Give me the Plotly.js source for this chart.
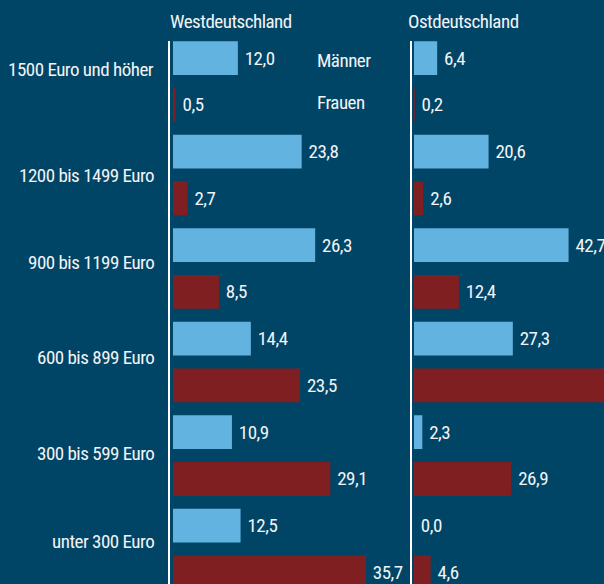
<!DOCTYPE html>
<html>
<head>
<meta charset="utf-8">
<script src="https://cdn.plot.ly/plotly-3.0.1.min.js"></script>
<style>
  html, body { margin: 0; padding: 0; background: #014566; }
  #chart { width: 604px; height: 584px; }
  svg text { letter-spacing: -0.5px; }
</style>
</head>
<body>
<div id="chart"></div>
<script>
// ---- data ----
const categories = ["1500 Euro und höher", "1200 bis 1499 Euro", "900 bis 1199 Euro",
                    "600 bis 899 Euro", "300 bis 599 Euro", "unter 300 Euro"];
const seriesNames = ["Männer", "Frauen"];
const panelTitles = ["Westdeutschland", "Ostdeutschland"];
const westMaenner = [12.0, 23.8, 26.3, 14.4, 10.9, 12.5];
const westFrauen  = [0.5, 2.7, 8.5, 23.5, 29.1, 35.7];
const ostMaenner  = [6.4, 20.6, 42.7, 27.3, 2.3, 0.0];
const ostFrauen   = [0.2, 2.6, 12.4, 53.3, 26.9, 4.6];

// ---- style ----
const W = 604, H = 584;
const BG = '#014566', BLUE = '#62b3e0', RED = '#801f22', TXT = '#f2f4f6';
const FONT = '"Roboto Condensed", "Open Sans Condensed", "Liberation Sans Narrow", "DejaVu Sans Condensed", sans-serif';
const FS = 19, FW = 400;
const topPx = 41;
const plotH = H - topPx;
// vertical pixel nudges of the category labels (positive = up)
const labelNudge = [12, -0.5, 6, 4.5, 2.5, 7.5];

// panel geometry in pixels
const westLeft = 170, westRight = 405, westScale = 5.406, westOff = 3;
const ostLeft = 411.5, ostRight = 604, ostScale = 3.62, ostOff = 2.5;
const westMin = -westOff / westScale, westMax = westMin + (westRight - westLeft) / westScale;
const ostMin = -ostOff / ostScale, ostMax = ostMin + (ostRight - ostLeft) / ostScale;

const txtFont = { family: FONT, size: FS, color: TXT, weight: FW };

function barTrace(vals, name, color, xa, ya) {
  return {
    type: 'bar', orientation: 'h', name: name,
    x: vals, y: categories, xaxis: xa, yaxis: ya,
    marker: { color: color, line: { width: 0 } },
    texttemplate: '\u00a0%{x:.1f}', textposition: 'outside',
    textfont: txtFont,
    constraintext: 'none', cliponaxis: false,
    hoverinfo: 'skip', showlegend: false
  };
}

const data = [
  barTrace(westMaenner, seriesNames[0], BLUE, 'x', 'y'),
  barTrace(westFrauen, seriesNames[1], RED, 'x', 'y'),
  barTrace(ostMaenner, seriesNames[0], BLUE, 'x2', 'y2'),
  barTrace(ostFrauen, seriesNames[1], RED, 'x2', 'y2')
];

const yRange = [(H - 81.5) / 93.5, (topPx - 81.5) / 93.5];
const hiddenX = { showgrid: false, zeroline: false, showticklabels: false, ticks: '', showline: false, fixedrange: true };

const annotations = [
  { text: panelTitles[0], xref: 'paper', yref: 'paper', x: 168 / W, y: 1 + 20 / plotH,
    xanchor: 'left', yanchor: 'middle', showarrow: false, font: txtFont },
  { text: panelTitles[1], xref: 'paper', yref: 'paper', x: 406 / W, y: 1 + 20 / plotH,
    xanchor: 'left', yanchor: 'middle', showarrow: false, font: txtFont },
  { text: seriesNames[0], xref: 'paper', yref: 'y', x: 315 / W, y: categories[0], yshift: 21,
    xanchor: 'left', yanchor: 'middle', showarrow: false, font: txtFont },
  { text: seriesNames[1], xref: 'paper', yref: 'y', x: 315 / W, y: categories[0], yshift: -21,
    xanchor: 'left', yanchor: 'middle', showarrow: false, font: txtFont }
];
categories.forEach(function (c, i) {
  annotations.push({ text: c, xref: 'paper', yref: 'y', x: 155.5 / W, y: c, yshift: labelNudge[i],
    xanchor: 'right', yanchor: 'middle', showarrow: false, font: txtFont });
});

const layout = {
  width: W, height: H,
  margin: { l: 0, r: 0, t: topPx, b: 0, pad: 0 },
  paper_bgcolor: BG, plot_bgcolor: BG,
  separators: ',.',
  font: { family: FONT, color: TXT, size: FS },
  barmode: 'group', bargap: 0, bargroupgap: 0.273,
  showlegend: false,
  xaxis: Object.assign({ domain: [westLeft / W, westRight / W], range: [westMin, westMax], anchor: 'y' }, hiddenX),
  xaxis2: Object.assign({ domain: [ostLeft / W, ostRight / W], range: [ostMin, ostMax], anchor: 'y2' }, hiddenX),
  yaxis: {
    type: 'category', range: yRange, anchor: 'x', domain: [0, 1],
    showline: true, linecolor: '#ffffff', linewidth: 2,
    showgrid: false, zeroline: false, ticks: '', showticklabels: false
  },
  yaxis2: {
    type: 'category', range: yRange, anchor: 'x2', domain: [0, 1], matches: 'y',
    showline: true, linecolor: '#ffffff', linewidth: 2,
    showgrid: false, zeroline: false, ticks: '', showticklabels: false
  },
  annotations: annotations
};

Plotly.newPlot('chart', data, layout, { staticPlot: true, displayModeBar: false });
</script>
</body>
</html>
